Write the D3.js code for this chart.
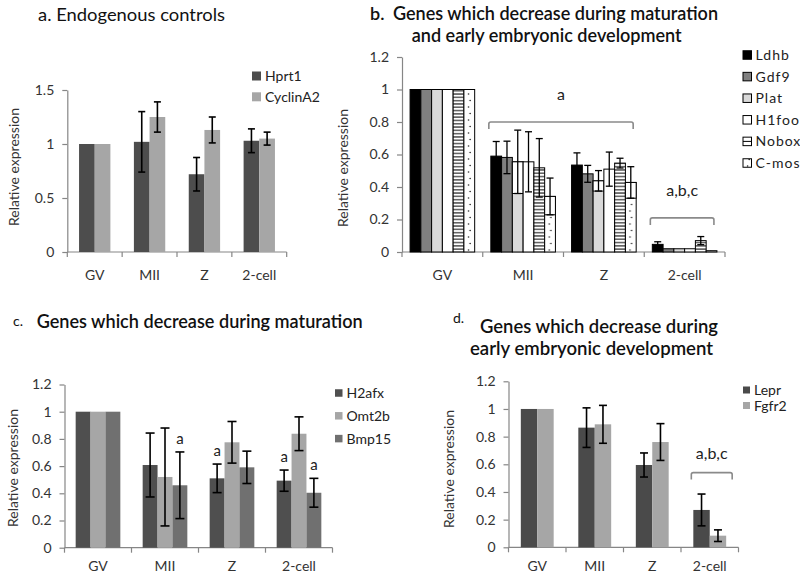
<!DOCTYPE html>
<html><head><meta charset="utf-8">
<script src="https://cdn.jsdelivr.net/npm/d3@7"></script>
<style>
body{margin:0;background:#fff}
text{font-family:Lato,"Open Sans",sans-serif}
</style>
</head><body>
<svg id="chart" width="800" height="576"></svg>
<script>
// ---------- DATA ----------
const categories = ["GV", "MII", "Z", "2-cell"];

// panel a
const aSeries = ["Hprt1", "CyclinA2"];
const aHprt1 = [1, 1.02, 0.72, 1.03];
const aHprt1Err = [0, 0.28, 0.155, 0.11];
const aCyclinA2 = [1, 1.25, 1.13, 1.05];
const aCyclinA2Err = [0, 0.14, 0.12, 0.06];
const aTicks = [0, 0.5, 1, 1.5];

// panel b
const bSeries = ["Ldhb", "Gdf9", "Plat", "H1foo", "Nobox", "C-mos"];
const bLdhb = [1, 0.59, 0.535, 0.047];
const bLdhbErr = [0, 0.09, 0.075, 0.016];
const bGdf9 = [1, 0.582, 0.481, 0.02];
const bGdf9Err = [0, 0.1, 0.052, 0];
const bPlat = [1, 0.555, 0.438, 0.02];
const bPlatErr = [0, 0.195, 0.063, 0];
const bH1foo = [1, 0.555, 0.51, 0.02];
const bH1fooErr = [0, 0.185, 0.105, 0];
const bNobox = [1, 0.518, 0.547, 0.07];
const bNoboxErr = [0, 0.18, 0.03, 0.025];
const bCmos = [1, 0.342, 0.428, 0.008];
const bCmosErr = [0, 0.113, 0.097, 0];
const bTicks = [0, 0.2, 0.4, 0.6, 0.8, 1, 1.2];
const bBrackets = [
  {from: "MII", to: "Z", level: 0.8, label: "a"},
  {from: "2-cell", to: "2-cell", level: 0.21, label: "a,b,c"}
];

// panel c
const cSeries = ["H2afx", "Omt2b", "Bmp15"];
const cH2afx = [1, 0.608, 0.51, 0.493];
const cH2afxErr = [0, 0.235, 0.105, 0.078];
const cOmt2b = [1, 0.52, 0.775, 0.838];
const cOmt2bErr = [0, 0.36, 0.153, 0.124];
const cBmp15 = [1, 0.459, 0.591, 0.404];
const cBmp15Err = [0, 0.245, 0.119, 0.106];
const cTicks = [0, 0.2, 0.4, 0.6, 0.8, 1, 1.2];
const cLetters = [
  {cat: "MII", series: "Bmp15", label: "a"},
  {cat: "Z", series: "H2afx", label: "a"},
  {cat: "2-cell", series: "H2afx", label: "a"},
  {cat: "2-cell", series: "Bmp15", label: "a"}
];

// panel d
const dSeries = ["Lepr", "Fgfr2"];
const dLepr = [1, 0.865, 0.595, 0.27];
const dLeprErr = [0, 0.143, 0.087, 0.115];
const dFgfr2 = [1, 0.889, 0.761, 0.084];
const dFgfr2Err = [0, 0.137, 0.133, 0.042];
const dTicks = [0, 0.2, 0.4, 0.6, 0.8, 1, 1.2];
const dBrackets = [{from: "2-cell", to: "2-cell", level: 0.54, label: "a,b,c"}];

// ---------- DRAWING ----------
const svg = d3.select("#chart");
svg.append("rect").attr("width", 800).attr("height", 576).attr("fill", "#fff");
const defs = svg.append("defs");

// fill patterns for panel b
const stripes = defs.append("pattern").attr("id", "stripes")
  .attr("patternUnits", "userSpaceOnUse").attr("width", 20).attr("height", 3.3);
stripes.append("rect").attr("width", 20).attr("height", 3.3).attr("fill", "#fff");
stripes.append("line").attr("x1", 0).attr("x2", 20).attr("y1", 1.65).attr("y2", 1.65)
  .attr("stroke", "#000").attr("stroke-width", 1);
const dots = defs.append("pattern").attr("id", "dots")
  .attr("patternUnits", "userSpaceOnUse").attr("width", 30).attr("height", 13);
dots.append("rect").attr("width", 30).attr("height", 13).attr("fill", "#fff");
dots.append("circle").attr("cx", 4.6).attr("cy", 3).attr("r", 0.8).attr("fill", "#222");
dots.append("circle").attr("cx", 6.2).attr("cy", 9.5).attr("r", 0.8).attr("fill", "#222");

const AXIS = "#868686";
const LABEL = "#333";

function fmt(d) { return String(+d.toFixed(2)); }

function drawPanel(cfg) {
  const g = svg.append("g");
  const x0 = d3.scaleBand().domain(categories).range([cfg.left, cfg.right]);
  const n = cfg.series.length;
  const bw = x0.bandwidth() / (n + 1.5);
  const x1 = d3.scaleBand().domain(cfg.series.map(s => s.name))
    .range([0.75 * bw, 0.75 * bw + n * bw]);
  const y = d3.scaleLinear().domain([0, cfg.ymax]).range([cfg.bottom, cfg.top]);

  // y axis
  const ya = d3.axisLeft(y).tickValues(cfg.ticks).tickFormat(fmt).tickSize(5).tickSizeOuter(0).tickPadding(8);
  const yg = g.append("g").attr("transform", `translate(${cfg.left},0)`).call(ya);
  yg.select(".domain").attr("stroke", AXIS).attr("stroke-width", 1.2);
  yg.selectAll(".tick line").attr("stroke", AXIS).attr("stroke-width", 1.2);
  yg.selectAll(".tick text").attr("fill", LABEL).style("font-size", "14px").style("font-family", "Lato, sans-serif");

  // x axis: line + boundary ticks + labels
  g.append("line").attr("x1", cfg.left).attr("x2", cfg.right)
    .attr("y1", cfg.bottom).attr("y2", cfg.bottom).attr("stroke", AXIS).attr("stroke-width", 1.2);
  const bounds = categories.map(c => x0(c)).concat([x0(categories[categories.length - 1]) + x0.bandwidth()]);
  g.selectAll(".xt").data(bounds).join("line")
    .attr("x1", d => d).attr("x2", d => d)
    .attr("y1", cfg.bottom).attr("y2", cfg.bottom + 5)
    .attr("stroke", AXIS).attr("stroke-width", 1.2);
  g.selectAll(".xl").data(categories).join("text")
    .attr("x", d => x0(d) + x0.bandwidth() / 2).attr("y", cfg.bottom + cfg.xLabelGap)
    .attr("text-anchor", "middle").attr("fill", LABEL).style("font-size", "14px")
    .text(d => d);

  // y label
  g.append("text").attr("transform", `translate(${cfg.yLabelX},${cfg.yLabelY}) rotate(-90)`)
    .attr("text-anchor", "middle").attr("fill", LABEL).style("font-size", "14px")
    .text("Relative expression");

  // bars
  const rows = [];
  cfg.series.forEach((s, si) => categories.forEach((c, ci) => rows.push({
    s, si, c, v: s.values[ci], e: s.err[ci]
  })));
  const bars = g.selectAll(".bar").data(rows).join("g")
    .attr("transform", d => `translate(${x0(d.c) + x1(d.s.name)},0)`);
  bars.append("rect")
    .attr("x", 0).attr("width", bw)
    .attr("y", d => y(d.v)).attr("height", d => y(0) - y(d.v))
    .attr("fill", d => d.s.fill)
    .attr("stroke", cfg.barStroke || "none").attr("stroke-width", 1);
  // inner white box (panel b light bars)
  bars.filter(d => d.s.whiteBox && d.e > 0).append("rect")
    .attr("x", 0).attr("width", bw)
    .attr("y", d => y(d.v)).attr("height", d => y(d.v - d.e) - y(d.v))
    .attr("fill", "#fff").attr("stroke", "#000").attr("stroke-width", 1);

  // error bars
  const eb = bars.filter(d => d.e > 0).append("g").attr("stroke", "#000").attr("stroke-width", cfg.errW);
  eb.append("line").attr("x1", bw / 2).attr("x2", bw / 2)
    .attr("y1", d => y(d.v + d.e)).attr("y2", d => y(d.v - d.e));
  eb.append("line").attr("x1", bw / 2 - cfg.cap / 2).attr("x2", bw / 2 + cfg.cap / 2)
    .attr("y1", d => y(d.v + d.e)).attr("y2", d => y(d.v + d.e));
  eb.append("line").attr("x1", bw / 2 - cfg.cap / 2).attr("x2", bw / 2 + cfg.cap / 2)
    .attr("y1", d => y(d.v - d.e)).attr("y2", d => y(d.v - d.e));

  // significance letters above single bars
  (cfg.letters || []).forEach(L => {
    const s = cfg.series.find(q => q.name === L.series);
    const ci = categories.indexOf(L.cat);
    g.append("text")
      .attr("x", x0(L.cat) + x1(L.series) + bw / 2)
      .attr("y", y(s.values[ci] + s.err[ci]) - 8)
      .attr("text-anchor", "middle").attr("fill", "#222").style("font-size", "15px")
      .text(L.label);
  });

  // brackets
  (cfg.brackets || []).forEach(B => {
    const xa = x0(B.from) + x1.range()[0] - 2;
    const xb = x0(B.to) + x1.range()[1] + cfg.bracketPadR;
    const yy = y(B.level);
    g.append("path")
      .attr("d", `M${xa},${yy + 7}L${xa},${yy + 2}Q${xa},${yy} ${xa + 2},${yy}L${xb - 2},${yy}Q${xb},${yy} ${xb},${yy + 2}L${xb},${yy + 7}`)
      .attr("fill", "none").attr("stroke", "#8a8a8a").attr("stroke-width", 1.6);
    g.append("text").attr("x", (xa + xb) / 2).attr("y", yy - cfg.bracketLabelGap)
      .attr("text-anchor", "middle").attr("fill", "#222").style("font-size", "16px")
      .text(B.label);
  });

  // legend
  const lg = g.selectAll(".leg").data(cfg.series).join("g")
    .attr("transform", (d, i) => `translate(${cfg.legX},${cfg.legY + i * cfg.legStep})`);
  lg.append("rect").attr("x", 0).attr("y", -cfg.legSq / 2).attr("width", cfg.legSq).attr("height", cfg.legSq)
    .attr("fill", d => d.legFill || d.fill).attr("stroke", cfg.barStroke || "none").attr("stroke-width", 1);
  lg.filter(d => d.name === "Nobox").append("line")
    .attr("x1", 0).attr("x2", cfg.legSq).attr("y1", 0).attr("y2", 0).attr("stroke", "#000");
  lg.append("text").attr("x", cfg.legSq + 4).attr("y", 5)
    .attr("fill", "#222").style("font-size", "14px").style("letter-spacing", cfg.legSpacing || "0px")
    .text(d => d.name);
  return g;
}

function title(parts) {
  parts.forEach(p => {
    const t = svg.append("text").attr("x", p.x).attr("y", p.y).attr("fill", "#111")
      .style("font-size", p.size + "px").style("font-weight", p.weight || "normal").text(p.text);
    if (p.len) t.attr("textLength", p.len).attr("lengthAdjust", "spacingAndGlyphs");
  });
}

// ---- panel a ----
drawPanel({
  left: 67.3, right: 286.7, bottom: 252, top: 90, ymax: 1.5, ticks: aTicks,
  series: [
    {name: aSeries[0], values: aHprt1, err: aHprt1Err, fill: "#4d4d4d"},
    {name: aSeries[1], values: aCyclinA2, err: aCyclinA2Err, fill: "#a6a6a6"}
  ],
  errW: 1.6, cap: 7, yLabelX: 18.5, yLabelY: 167, xLabelGap: 28,
  legX: 252, legY: 76, legStep: 20.8, legSq: 9
});
title([{x: 38, y: 21, size: 17, text: "a. Endogenous controls", len: 187}]);

// ---- panel b ----
drawPanel({
  left: 402, right: 725, bottom: 252, top: 57, ymax: 1.2, ticks: bTicks,
  series: [
    {name: bSeries[0], values: bLdhb, err: bLdhbErr, fill: "#000"},
    {name: bSeries[1], values: bGdf9, err: bGdf9Err, fill: "#808080"},
    {name: bSeries[2], values: bPlat, err: bPlatErr, fill: "#d9d9d9", whiteBox: true},
    {name: bSeries[3], values: bH1foo, err: bH1fooErr, fill: "#fff"},
    {name: bSeries[4], values: bNobox, err: bNoboxErr, fill: "url(#stripes)", legFill: "#fff"},
    {name: bSeries[5], values: bCmos, err: bCmosErr, fill: "url(#dots)", whiteBox: true}
  ],
  barStroke: "#000", errW: 1.3, cap: 7, yLabelX: 348, yLabelY: 168, xLabelGap: 28,
  brackets: bBrackets, bracketPadR: -3, bracketLabelGap: 22,
  legX: 743, legY: 55, legStep: 21.6, legSq: 8.5, legSpacing: "1px"
});
title([
  {x: 370, y: 19.5, size: 18, text: "b.", weight: 600},
  {x: 393, y: 19.5, size: 18.5, text: "Genes which decrease during maturation", len: 325, weight: 600},
  {x: 411.7, y: 42, size: 18.5, text: "and early embryonic development", len: 270, weight: 600}
]);

// ---- panel c ----
drawPanel({
  left: 64.5, right: 332.5, bottom: 547.7, top: 384.5, ymax: 1.2, ticks: cTicks,
  series: [
    {name: cSeries[0], values: cH2afx, err: cH2afxErr, fill: "#4f4f4f"},
    {name: cSeries[1], values: cOmt2b, err: cOmt2bErr, fill: "#a6a6a6"},
    {name: cSeries[2], values: cBmp15, err: cBmp15Err, fill: "#707070"}
  ],
  errW: 1.6, cap: 9, yLabelX: 17.5, yLabelY: 468, xLabelGap: 23.5, letters: cLetters,
  legX: 335, legY: 393, legStep: 22.8, legSq: 7.5
});
title([
  {x: 13, y: 326, size: 14, text: "c."},
  {x: 36.7, y: 327.5, size: 18.5, text: "Genes which decrease during maturation", len: 326, weight: 600}
]);

// ---- panel d ----
drawPanel({
  left: 508.5, right: 738.5, bottom: 547.3, top: 381.3, ymax: 1.2, ticks: dTicks,
  series: [
    {name: dSeries[0], values: dLepr, err: dLeprErr, fill: "#4a4a4a"},
    {name: dSeries[1], values: dFgfr2, err: dFgfr2Err, fill: "#a6a6a6"}
  ],
  errW: 1.6, cap: 8, yLabelX: 454, yLabelY: 469, xLabelGap: 23.5,
  brackets: dBrackets, bracketPadR: 6, bracketLabelGap: 14,
  legX: 743, legY: 390, legStep: 15.5, legSq: 7
});
title([
  {x: 453, y: 323, size: 14, text: "d."},
  {x: 480, y: 333, size: 18.5, text: "Genes which decrease during", len: 238, weight: 600},
  {x: 470, y: 355, size: 18.5, text: "early embryonic development", len: 243, weight: 600}
]);
</script>
</body></html>
